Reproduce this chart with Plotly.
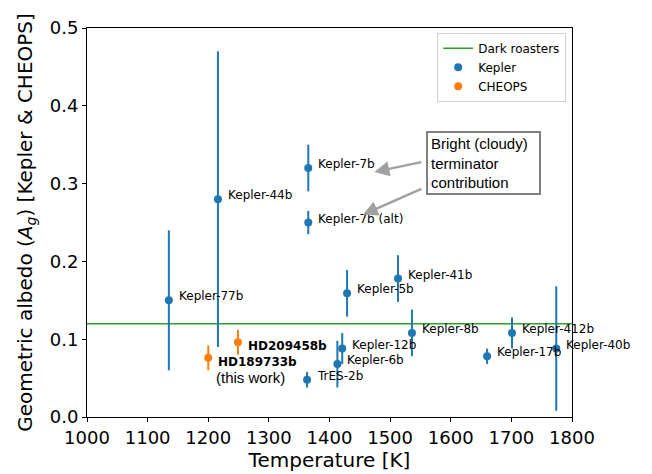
import plotly.graph_objects as go

# ---- data ----
kepler_names = ["Kepler-77b", "Kepler-44b", "Kepler-7b", "Kepler-7b (alt)", "TrES-2b",
                "Kepler-6b", "Kepler-12b", "Kepler-5b", "Kepler-41b", "Kepler-8b",
                "Kepler-17b", "Kepler-412b", "Kepler-40b"]
kepler_temp = [1135, 1216, 1365, 1365, 1363, 1413, 1421, 1429, 1513, 1536, 1660, 1701, 1774]
kepler_ag = [0.15, 0.28, 0.32, 0.25, 0.048, 0.068, 0.088, 0.159, 0.178, 0.108, 0.078, 0.108, 0.088]
kepler_err = [0.09, 0.19, 0.03, 0.015, 0.01, 0.03, 0.02, 0.03, 0.03, 0.03, 0.01, 0.02, 0.08]

cheops_names = ["HD189733b", "HD209458b"]
cheops_temp = [1200, 1249]
cheops_ag = [0.076, 0.096]
cheops_err = [0.016, 0.016]

dark_roaster_ag = 0.12
x_range = [1000, 1800]
y_range = [0.0, 0.5]
x_ticks = [1000, 1100, 1200, 1300, 1400, 1500, 1600, 1700, 1800]
y_ticks = [0.0, 0.1, 0.2, 0.3, 0.4, 0.5]

BLUE = "#1f77b4"
ORANGE = "#ff7f0e"
GREEN = "#2ca02c"
GRAY = "#a0a0a0"
FONT = "DejaVu Sans"
ARIAL = "Liberation Sans"

fig = go.Figure()

fig.add_trace(go.Scatter(
    x=x_range, y=[dark_roaster_ag, dark_roaster_ag], mode="lines",
    line=dict(color=GREEN, width=1.5), name="Dark roasters"))

fig.add_trace(go.Scatter(
    x=kepler_temp, y=kepler_ag, mode="markers", name="Kepler",
    marker=dict(color=BLUE, size=8),
    error_y=dict(type="data", array=kepler_err, color=BLUE, thickness=2, width=0)))

fig.add_trace(go.Scatter(
    x=cheops_temp, y=cheops_ag, mode="markers", name="CHEOPS",
    marker=dict(color=ORANGE, size=8),
    error_y=dict(type="data", array=cheops_err, color=ORANGE, thickness=2, width=0)))

annotations = []
for n, t, a in zip(kepler_names, kepler_temp, kepler_ag):
    annotations.append(dict(x=t, y=a, xref="x", yref="y", text=n, showarrow=False,
                            xanchor="left", yanchor="middle", xshift=8, yshift=4,
                            font=dict(family=FONT, size=12, color="black")))
for n, t, a in zip(cheops_names, cheops_temp, cheops_ag):
    annotations.append(dict(x=t, y=a, xref="x", yref="y", text="<b>" + n + "</b>",
                            showarrow=False, xanchor="left", yanchor="middle",
                            xshift=8, yshift=-4,
                            font=dict(family=FONT, size=12, color="black")))
# "(this work)" under HD189733b
annotations.append(dict(x=cheops_temp[0], y=cheops_ag[0], xref="x", yref="y",
                        text="(this work)", showarrow=False, xanchor="left",
                        yanchor="middle", xshift=6, yshift=-20,
                        font=dict(family=ARIAL, size=15, color="black")))

# Box text
annotations.append(dict(x=1654, y=0.3265, xref="x", yref="y",
                        text="Bright (cloudy)<br>terminator<br>contribution",
                        showarrow=False, align="left", valign="middle",
                        xanchor="center", yanchor="middle",
                        width=105, height=54,
                        bordercolor="#808080", borderwidth=2, borderpad=3, bgcolor="white",
                        font=dict(family=ARIAL, size=15, color="black")))
# arrows
annotations.append(dict(x=1474, y=0.315, xref="x", yref="y", ax=1554, ay=0.328,
                        axref="x", ayref="y", text="", showarrow=True, arrowhead=2,
                        arrowsize=1.2, arrowwidth=2.5, arrowcolor=GRAY, standoff=0))
annotations.append(dict(x=1455, y=0.26, xref="x", yref="y", ax=1554, ay=0.294,
                        axref="x", ayref="y", text="", showarrow=True, arrowhead=2,
                        arrowsize=1.2, arrowwidth=2.5, arrowcolor=GRAY, standoff=0))

axis_common = dict(showline=True, linecolor="black", linewidth=1, mirror=True,
                   ticks="outside", ticklen=4, tickcolor="black", showgrid=False,
                   zeroline=False, automargin=False,
                   tickfont=dict(family=FONT, size=18, color="black"))

fig.update_layout(
    width=652, height=474,
    margin=dict(l=87, r=80, t=28, b=57),
    paper_bgcolor="white", plot_bgcolor="white",
    font=dict(family=FONT, color="black"),
    annotations=annotations,
    legend=dict(x=0.722, y=0.988, xanchor="left", yanchor="top",
                bgcolor="rgba(255,255,255,0.8)", bordercolor="#d0d0d0", borderwidth=1,
                font=dict(family=FONT, size=12, color="black"),
                tracegroupgap=0, itemwidth=30),
    xaxis=dict(range=x_range, tickvals=x_ticks,
               title=dict(text="Temperature [K]", font=dict(family=FONT, size=20), standoff=2),
               **axis_common),
    yaxis=dict(range=y_range, tickvals=y_ticks, tickformat=".1f",
               title=dict(text="Geometric albedo (<i>A</i><sub><i>g</i></sub>) [Kepler &amp; CHEOPS]",
                          font=dict(family=FONT, size=20), standoff=11),
               **axis_common),
)

fig.write_html("out.html", config={"displayModeBar": False},
               post_script="document.body.style.margin='0px';document.body.style.overflow='hidden';")
